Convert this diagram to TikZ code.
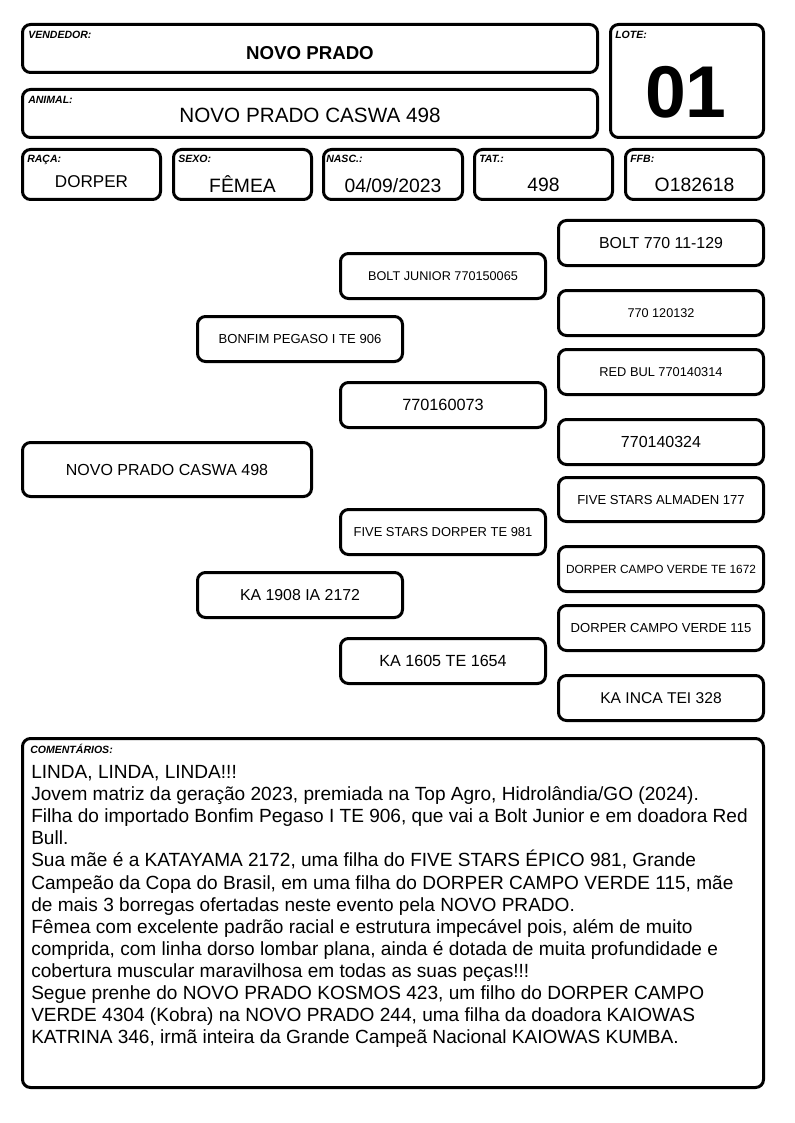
\documentclass[tikz,border=0pt]{standalone}
\usepackage{fontspec}
\setmainfont{Liberation Sans}
\usetikzlibrary{calc}
\tikzset{
  pbox/.style 2 args={draw, line width=2.25pt, rounded corners=6pt,
    minimum width=#1*0.75pt, minimum height=#2*0.75pt, inner sep=0pt},
  tag/.style={anchor=base west, inner sep=0pt, font=\fontsize{7.9}{9}\selectfont\bfseries\itshape},
  val/.style={anchor=base, inner sep=0pt},
}
\begin{document}
\begin{tikzpicture}[x=0.75pt, y=-0.75pt]
		%%%%% START %%%%%
		\useasboundingbox (0,0) rectangle (794,1123);
		
		% header
		\node[pbox={575}{48}] (vend) at (310,48.5) {};
		\node[tag] at ($(vend.north west)+(7,16)$) {VENDEDOR:};
		\node[val, font=\fontsize{14}{16}\selectfont\bfseries] at (310,60) {NOVO PRADO};
		
		\node[pbox={575}{48}] (anim) at (310,113.5) {};
		\node[tag] at ($(anim.north west)+(7,16)$) {ANIMAL:};
		\node[val, font=\fontsize{15.5}{18}\selectfont] at (310,123) {NOVO PRADO CASWA 498};
		
		\node[pbox={153}{113}] (lote) at (687,81) {};
		\node[tag] at ($(lote.north west)+(6,16)$) {LOTE:};
		\node[val, font=\fontsize{55}{60}\selectfont\bfseries] at (686,118) {01};
		
		\node[pbox={138}{50}] (raca) at (91.5,174.5) {};
		\node[tag] at ($(raca.north west)+(6,15)$) {RAÇA:};
		\node[val, font=\fontsize{12.8}{14}\selectfont] at (91.5,188) {DORPER};
		
		\node[pbox={138}{50}] (sexo) at (242.5,174.5) {};
		\node[tag] at ($(sexo.north west)+(6,15)$) {SEXO:};
		\node[val, font=\fontsize{14.5}{16}\selectfont] at (242.5,193) {FÊMEA};
		
		\node[pbox={139}{50}] (nasc) at (393,174.5) {};
		\node[tag] at ($(nasc.north west)+(4,15)$) {NASC.:};
		\node[val, font=\fontsize{14.5}{16}\selectfont] at (393,193) {04/09/2023};
		
		\node[pbox={138}{50}] (tat) at (543.5,174.5) {};
		\node[tag] at ($(tat.north west)+(6,15)$) {TAT.:};
		\node[val, font=\fontsize{14.5}{16}\selectfont] at (543.5,192) {498};
		
		\node[pbox={138}{50}] (ffb) at (694.5,174.5) {};
		\node[tag] at ($(ffb.north west)+(6,15)$) {FFB:};
		\node[val, font=\fontsize{14.5}{16}\selectfont] at (694.5,192) {O182618};
		
		% pedigree
		\node[pbox={289}{54}, font=\fontsize{12}{14}\selectfont] (p0) at (167,469.5) {NOVO PRADO CASWA 498};
		
		\node[pbox={205}{45}, font=\fontsize{9.8}{12}\selectfont] (pai) at (300,339) {BONFIM PEGASO I TE 906};
		\node[pbox={205}{45}, font=\fontsize{11.9}{14}\selectfont] (mae) at (300,595) {KA 1908 IA 2172};
		
		\node[pbox={205}{45}, font=\fontsize{9.5}{12}\selectfont] (avop) at (443,276) {BOLT JUNIOR 770150065};
		\node[pbox={205}{45}, font=\fontsize{12.2}{14}\selectfont] (avap) at (443,405) {770160073};
		\node[pbox={205}{45}, font=\fontsize{9.7}{12}\selectfont] (avom) at (443,532) {FIVE STARS DORPER TE 981};
		\node[pbox={205}{45}, font=\fontsize{12.1}{14}\selectfont] (avam) at (443,661) {KA 1605 TE 1654};
		
		\node[pbox={205}{45}, font=\fontsize{11.9}{14}\selectfont] (b1) at (661,243) {BOLT 770 11-129};
		\node[pbox={205}{45}, font=\fontsize{9.5}{12}\selectfont] (b2) at (661,313) {770 120132};
		\node[pbox={205}{45}, font=\fontsize{9.6}{12}\selectfont] (b3) at (661,372) {RED BUL 770140314};
		\node[pbox={205}{45}, font=\fontsize{12}{14}\selectfont] (b4) at (661,442) {770140324};
		\node[pbox={205}{44}, font=\fontsize{9.8}{12}\selectfont] (b5) at (661,499.5) {FIVE STARS ALMADEN 177};
		\node[pbox={205}{45}, font=\fontsize{8.9}{12}\selectfont] (b6) at (661,569) {DORPER CAMPO VERDE TE 1672};
		\node[pbox={205}{45}, font=\fontsize{9.8}{12}\selectfont] (b7) at (661,628) {DORPER CAMPO VERDE 115};
		\node[pbox={205}{45}, font=\fontsize{11.7}{14}\selectfont] (b8) at (661,698) {KA INCA TEI 328};
		
		% comments
		\node[pbox={741}{349}] (coment) at (393,913) {};
		\node[tag] at ($(coment.north west)+(9,16)$) {COMENTÁRIOS:};
		\node[anchor=north west, inner sep=0pt, align=left,
		      font=\fontsize{14.3}{16.6}\selectfont] (texto) at (31,765) {%
		LINDA, LINDA, LINDA!!!\\
		Jovem matriz da geração 2023, premiada na Top Agro, Hidrolândia/GO (2024).\\
		Filha do importado Bonfim Pegaso I TE 906, que vai a Bolt Junior e em doadora Red\\
		Bull.\\
		Sua mãe é a KATAYAMA 2172, uma filha do FIVE STARS ÉPICO 981, Grande\\
		Campeão da Copa do Brasil, em uma filha do DORPER CAMPO VERDE 115, mãe\\
		de mais 3 borregas ofertadas neste evento pela NOVO PRADO.\\
		Fêmea com excelente padrão racial e estrutura impecável pois, além de muito\\
		comprida, com linha dorso lombar plana, ainda é dotada de muita profundidade e\\
		cobertura muscular maravilhosa em todas as suas peças!!!\\
		Segue prenhe do NOVO PRADO KOSMOS 423, um filho do DORPER CAMPO\\
		VERDE 4304 (Kobra) na NOVO PRADO 244, uma filha da doadora KAIOWAS\\
		KATRINA 346, irmã inteira da Grande Campeã Nacional KAIOWAS KUMBA.};
		%%%%% END %%%%%
	\end{tikzpicture}
\end{document}
